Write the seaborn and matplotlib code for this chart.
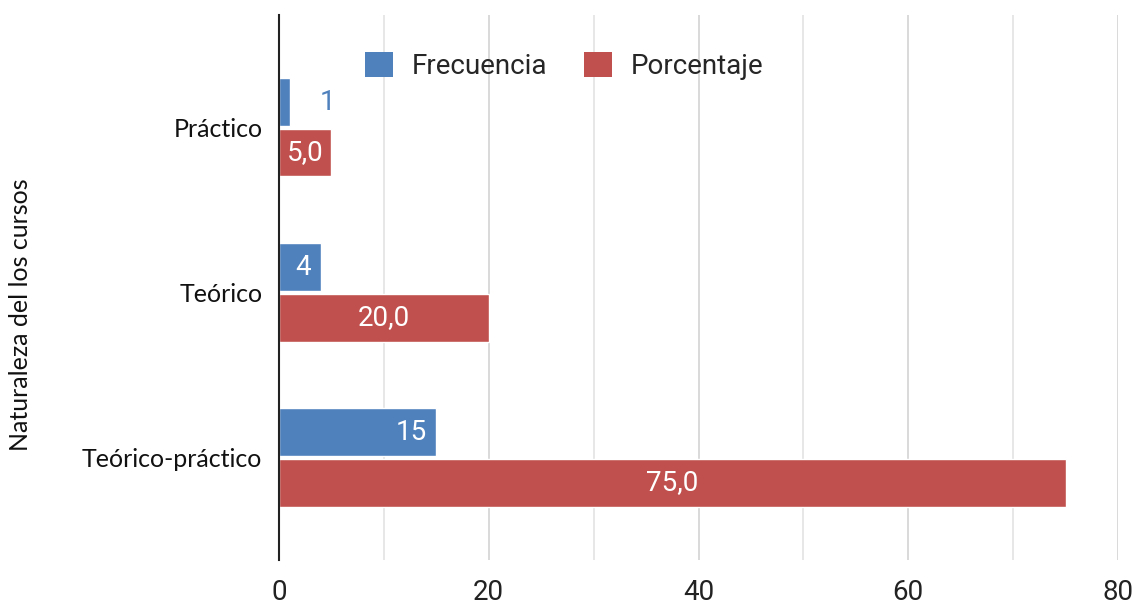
import matplotlib
matplotlib.use("Agg")
import matplotlib.pyplot as plt
from matplotlib.patches import Patch
from matplotlib.ticker import MultipleLocator
import seaborn as sns
import pandas as pd

# Course types and their counts / percentages
categories = ["Práctico", "Teórico", "Teórico-práctico"]
frecuencia = [1, 4, 15]
porcentaje = [5.0, 20.0, 75.0]
series_names = ["Frecuencia", "Porcentaje"]
x_ticks = [0, 20, 40, 60, 80]

colors = {"Frecuencia": "#4f81bd", "Porcentaje": "#c0504d"}

df = pd.DataFrame({
    "Naturaleza": categories * 2,
    "Serie": [series_names[0]] * len(categories) + [series_names[1]] * len(categories),
    "Valor": frecuencia + porcentaje,
})

sns.set_theme(style="white")
plt.rcParams["font.family"] = ["Roboto", "DejaVu Sans"]

fig = plt.figure(figsize=(11.39, 6.10), dpi=100)
ax = fig.add_axes([0.245, 0.082, 0.7366, 0.8934])

sns.barplot(data=df, y="Naturaleza", x="Valor", hue="Serie", orient="h",
            order=categories, hue_order=series_names, palette=colors,
            width=0.61, gap=0.05, saturation=1, legend=False, ax=ax)

ax.set_xlim(0, 80)
ax.set_ylim(2.62, -0.68)
ax.xaxis.set_major_locator(MultipleLocator(20))
ax.xaxis.set_minor_locator(MultipleLocator(10))
ax.grid(True, axis="x", which="major", color="#d3d3d3", linewidth=1.2)
ax.grid(True, axis="x", which="minor", color="#e3e3e3", linewidth=1.2)
ax.set_axisbelow(True)
ax.set_xticks(x_ticks)
ax.tick_params(axis="x", which="both", length=0, labelsize=20, pad=14, colors="#222222")
ax.tick_params(axis="y", length=0, pad=12)
for lab in ax.get_yticklabels():
    lab.set_fontfamily(["Lato", "DejaVu Sans"])
    lab.set_fontsize(18)
    lab.set_color("#111111")

for side in ["top", "right", "bottom"]:
    ax.spines[side].set_visible(False)
ax.spines["left"].set_color("#222222")
ax.spines["left"].set_linewidth(1.5)

ax.set_xlabel("")
ax.set_ylabel("Naturaleza del los cursos", fontsize=18, family=["Lato", "DejaVu Sans"],
              color="#111111")
ax.yaxis.set_label_coords(-0.294, 0.45)

# Value labels
px_per_unit = 839 / 80
for container, name, vals in zip(ax.containers, series_names, [frecuencia, porcentaje]):
    for bar, v in zip(container, vals):
        yc = bar.get_y() + bar.get_height() / 2
        if name == "Frecuencia":
            txt = f"{v:d}"
            if v * px_per_unit < 25:
                ax.annotate(txt, (v, yc), xytext=(22, 0), textcoords="offset points",
                            ha="left", va="center", fontsize=20, color=colors[name])
            else:
                ax.annotate(txt, (v, yc), xytext=(-7, 0), textcoords="offset points",
                            ha="right", va="center", fontsize=20, color="white")
        else:
            txt = f"{v:.1f}".replace(".", ",")
            ax.text(v / 2, yc, txt, ha="center", va="center", fontsize=20, color="white")

handles = [Patch(facecolor=colors[n], edgecolor="none", label=n) for n in series_names]
ax.legend(handles=handles, loc="center", bbox_to_anchor=(0.34, 0.906), ncol=2,
          frameon=False, fontsize=20, handlelength=1.0, handleheight=1.0,
          handletextpad=0.7, columnspacing=1.3)

fig.savefig("out.png", dpi=100)
